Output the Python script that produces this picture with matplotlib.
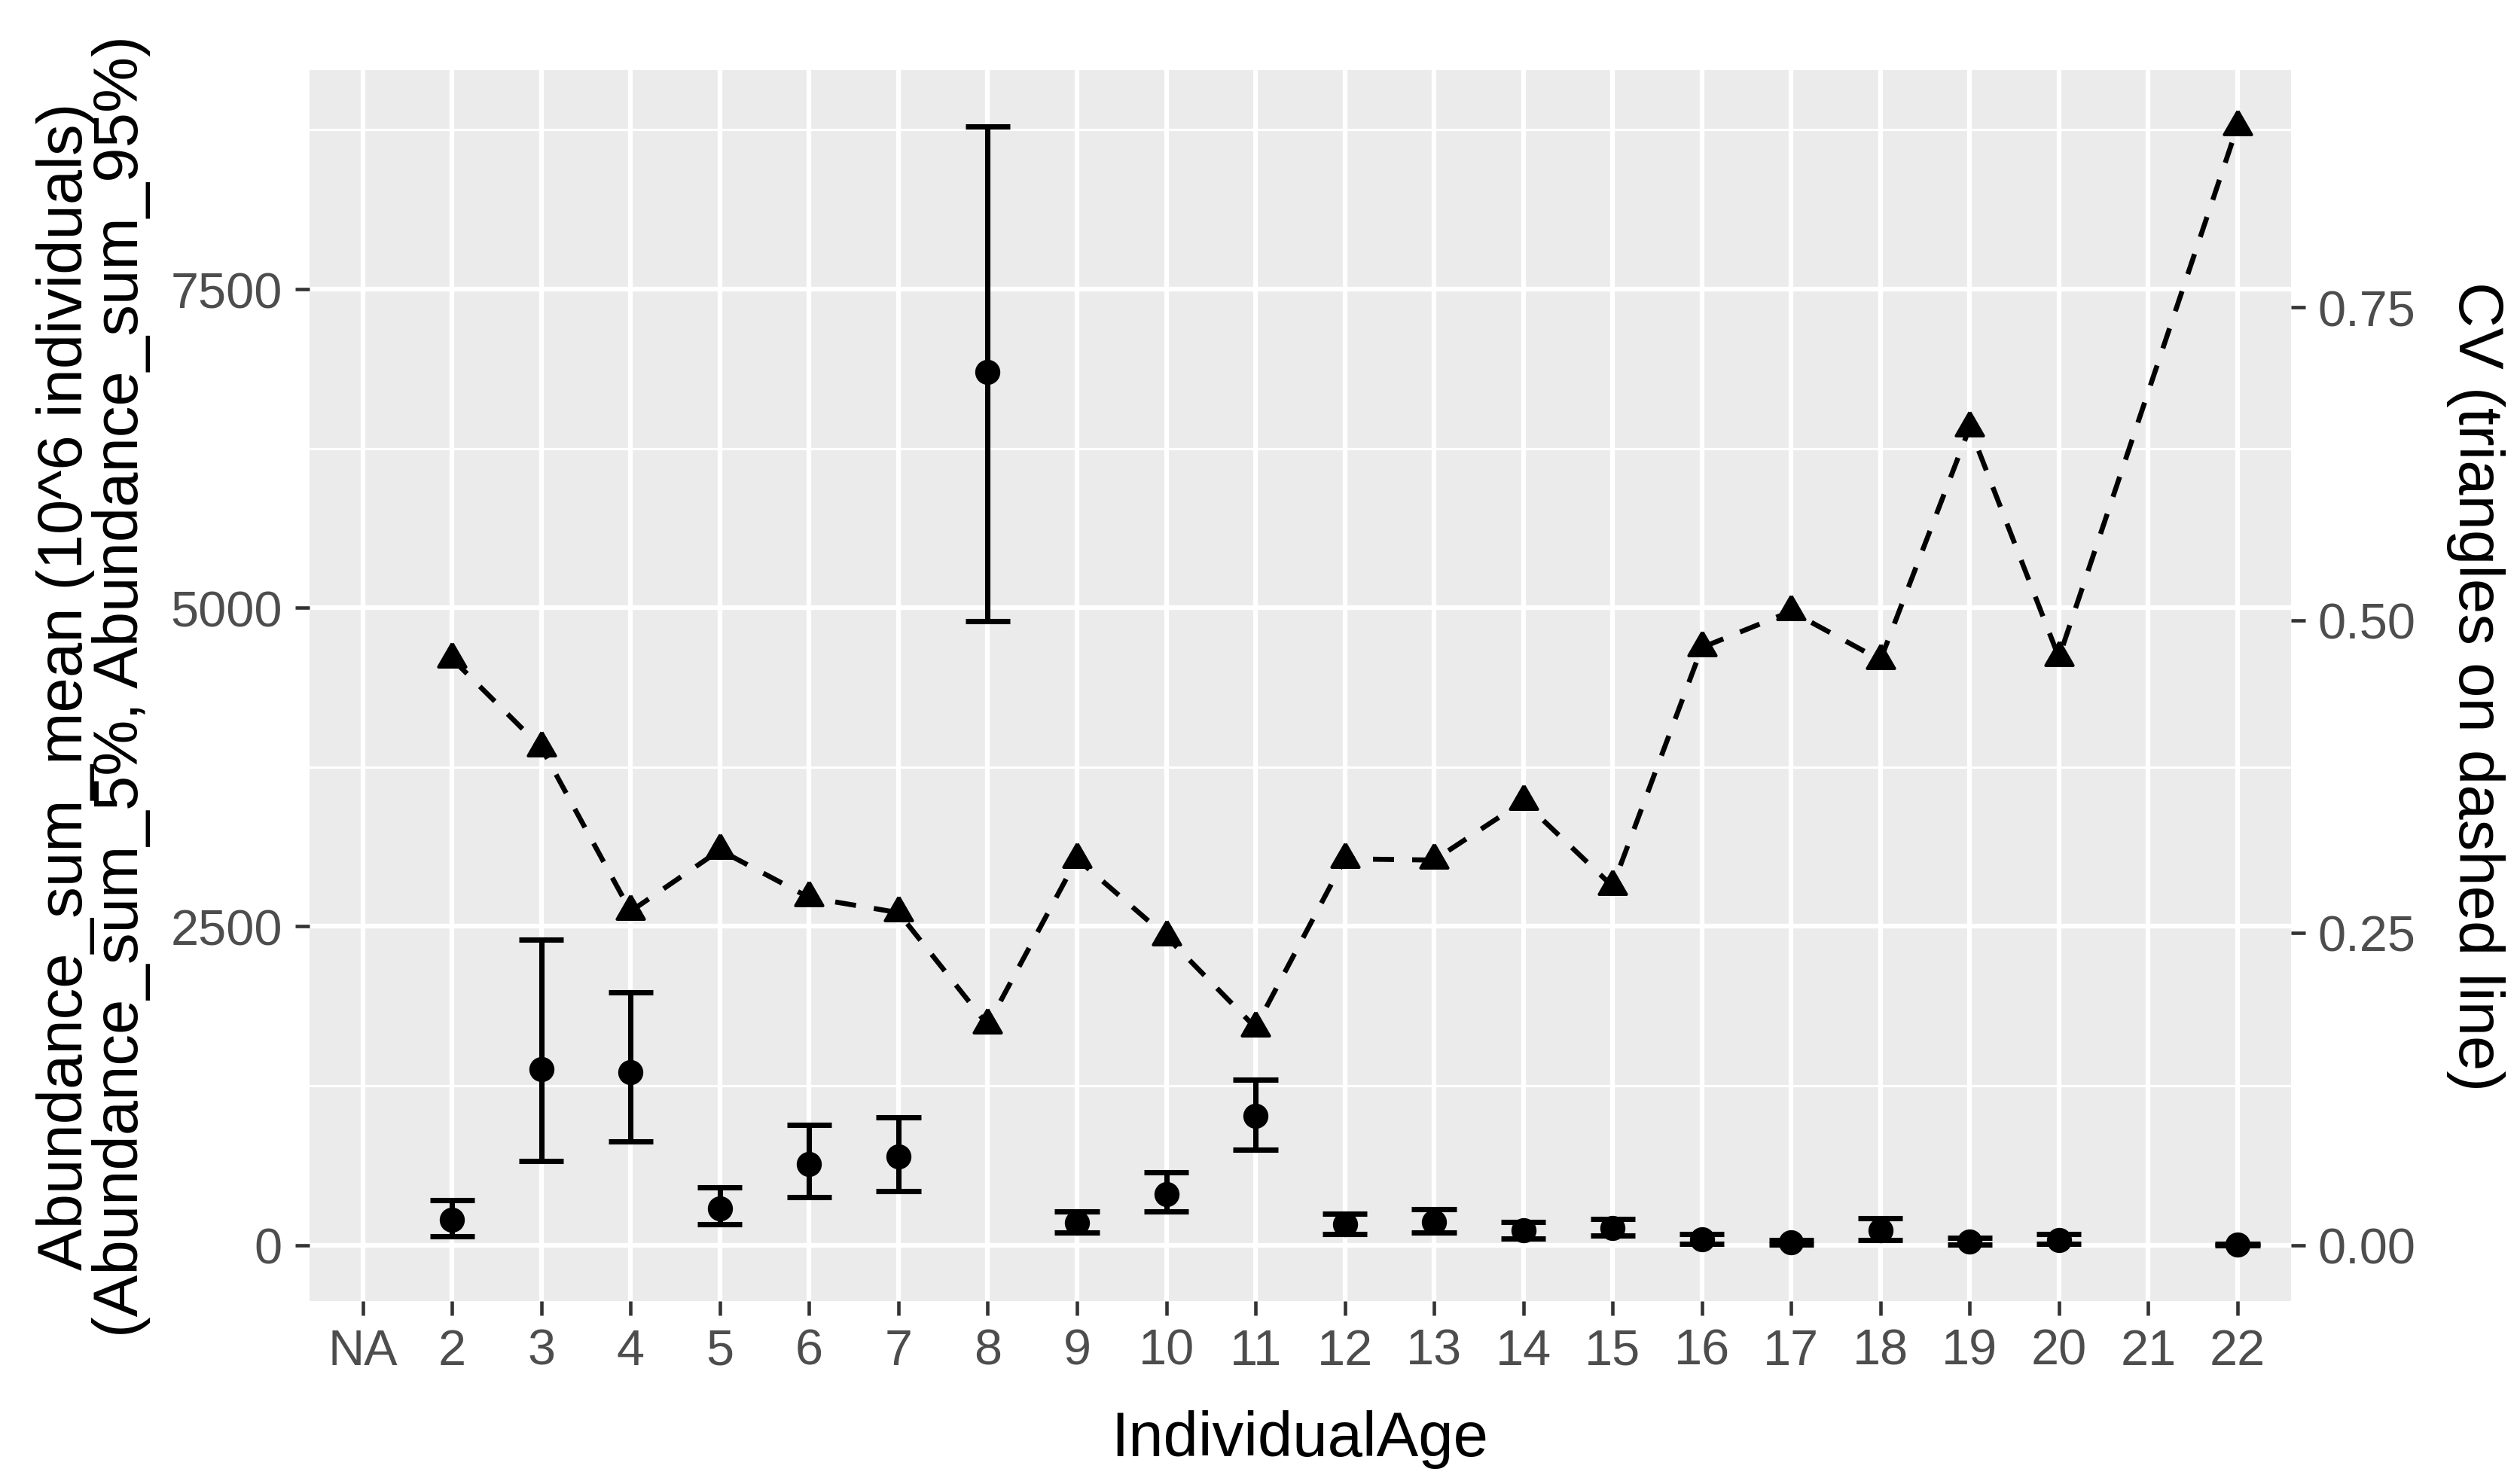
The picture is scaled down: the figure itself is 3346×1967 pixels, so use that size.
import numpy as np
import matplotlib
matplotlib.use('Agg')
import matplotlib.pyplot as plt
from matplotlib.ticker import FixedLocator

plt.rcParams['font.family'] = ['Liberation Sans', 'DejaVu Sans']

# categorie dell'asse x (NA e 21 senza dati)
categories = ['NA', '2', '3', '4', '5', '6', '7', '8', '9', '10', '11', '12',
              '13', '14', '15', '16', '17', '18', '19', '20', '21', '22']
ages = ['2', '3', '4', '5', '6', '7', '8', '9', '10', '11', '12', '13', '14',
        '15', '16', '17', '18', '19', '20', '22']
ab_mean = [198, 1381, 1354, 289, 634, 695, 6852, 177, 402, 1012, 163, 184,
           118, 137, 45, 20, 119, 25, 40, 5]
ab_lo = [70, 658, 813, 165, 374, 424, 4895, 97, 263, 747, 84, 97, 53, 74,
         10, 5, 37, 5, 10, 0]
ab_hi = [350, 2395, 1983, 452, 942, 1002, 8778, 263, 573, 1296, 244, 281,
         179, 205, 85, 40, 213, 60, 85, 8]
cv = [0.469, 0.398, 0.267, 0.316, 0.278, 0.266, 0.176, 0.309, 0.247, 0.174,
      0.309, 0.308, 0.355, 0.287, 0.478, 0.507, 0.468, 0.654, 0.470, 0.895]

W, H, DPI = 3346, 1968, 300
fig = plt.figure(figsize=(W / DPI, H / DPI), dpi=DPI)
L, R, T, B = 410.6, 3042, 94.4, 1729
ax = fig.add_axes([L / W, 1 - B / H, (R - L) / W, (B - T) / H])
ax.set_facecolor('#EBEBEB')
for s in ax.spines.values():
    s.set_visible(False)

x = np.array([categories.index(a) for a in ages])
mean = np.array(ab_mean, float)
lo = np.array(ab_lo, float)
hi = np.array(ab_hi, float)
cvs = np.array(cv)
scale = hi.max() / cvs.max()   # fattore asse secondario

# errorbar + punti
for xi, l, h in zip(x, lo, hi):
    ax.plot([xi, xi], [l, h], color='black', lw=1.7, solid_capstyle='butt',
            zorder=3)
    for yy in (l, h):
        ax.plot([xi - 0.25, xi + 0.25], [yy, yy], color='black', lw=1.7,
                solid_capstyle='butt', zorder=3)
ax.plot(x, mean, 'o', color='black', ms=7, zorder=4)

# CV: triangoli su linea tratteggiata
tri = [(0, 1), (-0.866, -0.5), (0.866, -0.5), (0, 1)]
ax.plot(x, cvs * scale, color='black', lw=1.6, dashes=(4.2, 3.6), zorder=3)
ax.plot(x, cvs * scale, linestyle='none', marker=tri, color='black',
        ms=10, zorder=4)

ax.set_xlim(-0.6, len(categories) - 0.4)
ymin = min(lo.min(), 0)
ymax = hi.max()
rng = ymax - ymin
ax.set_ylim(ymin - 0.05 * rng, ymax + 0.05 * rng)

ax.set_xticks(range(len(categories)))
ax.set_xticklabels(categories)
ax.yaxis.set_major_locator(FixedLocator([0, 2500, 5000, 7500]))
ax.yaxis.set_minor_locator(FixedLocator([1250, 3750, 6250, 8750]))
ax.set_yticklabels(['0', '2500', '5000', '7500'])

ax.grid(True, which='major', color='white', lw=1.5)
ax.grid(True, which='minor', axis='y', color='white', lw=0.75)
ax.set_axisbelow(True)
ax.tick_params(which='major', length=4.6, width=1.1, color='#333333',
               labelsize=16, labelcolor='#4D4D4D', pad=4)
ax.tick_params(which='minor', length=0)

sec = ax.secondary_yaxis('right', functions=(lambda y: y / scale,
                                             lambda c: c * scale))
sec.set_yticks([0, 0.25, 0.5, 0.75])
sec.set_yticklabels(['0.00', '0.25', '0.50', '0.75'])
sec.tick_params(length=4.6, width=1.1, color='#333333', labelsize=16,
                labelcolor='#4D4D4D', pad=4)
for s in sec.spines.values():
    s.set_visible(False)

fig.text(1726 / W, 1 - 1912 / H, 'IndividualAge', fontsize=20,
         ha='center', va='center')
yc = 1 - (T + B) / 2 / H
fig.text(124 / W, yc,
         'Abundance_sum_mean (10^6 individuals)\n'
         '(Abundance_sum_5%, Abundance_sum_95%)',
         fontsize=20, rotation=90, ha='center', va='center',
         linespacing=0.95, multialignment='center')
fig.text(3287 / W, yc, 'CV (triangles on dashed line)', fontsize=20,
         rotation=270, ha='center', va='center')

fig.savefig('out.png', dpi=DPI, facecolor='white')
